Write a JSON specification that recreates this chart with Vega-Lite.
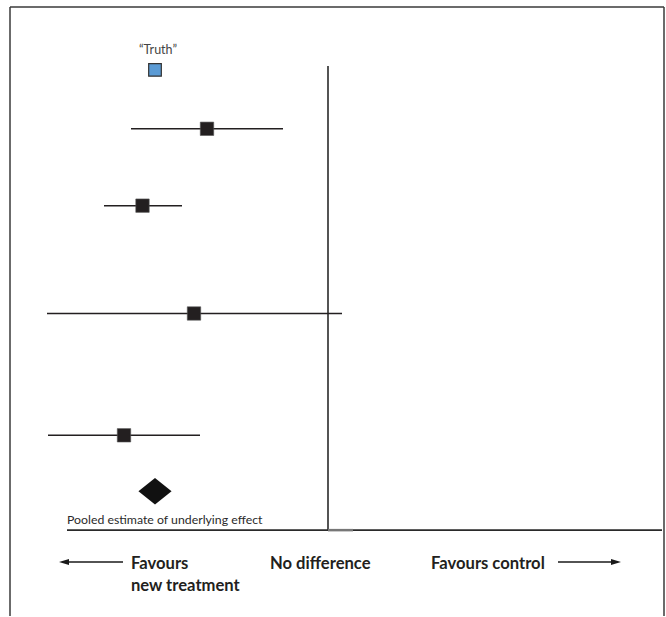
{
  "$schema": "https://vega.github.io/schema/vega-lite/v6.json",
  "width": 666,
  "height": 617,
  "autosize": {"type": "fit", "contains": "padding"},
  "padding": 0,
  "background": "white",
  "config": {"view": {"stroke": null}},
  "datasets": {
    "frame": [
      {"x": -3.18, "x2": 3.36, "y": 7, "y2": 7},
      {"x": -3.18, "x2": -3.18, "y": 7, "y2": 617},
      {"x": 3.36, "x2": 3.36, "y": 7, "y2": 617}
    ],
    "refline": [
      {"x": 0, "x2": 0, "y": 66, "y2": 531},
      {"x": -2.61, "x2": 3.34, "y": 531, "y2": 531}
    ],
    "gray": [
      {"x": 0, "x2": 0.25, "y": 531, "y2": 531}
    ],
    "studies": [
      {"study": "Study 1", "est": -1.21, "lo": -1.97, "hi": -0.45, "row": 129},
      {"study": "Study 2", "est": -1.855, "lo": -2.24, "hi": -1.46, "row": 206},
      {"study": "Study 3", "est": -1.34, "lo": -2.81, "hi": 0.14, "row": 314},
      {"study": "Study 4", "est": -2.04, "lo": -2.8, "hi": -1.28, "row": 436}
    ],
    "truth": [{"label": "“Truth”", "est": -1.73, "row": 70, "labelrow": 54}],
    "pooled": [{"label": "Pooled estimate of underlying effect", "est": -1.73, "row": 492, "labelx": -2.61, "labelrow": 525}],
    "arrows": [
      {"x": -2.65, "x2": -2.05, "y": 563, "tip": -2.64, "dir": "left"},
      {"x": 2.3, "x2": 2.88, "y": 563, "tip": 2.88, "dir": "right"}
    ],
    "captions": [
      {"text": "Favours", "x": -1.97, "y": 570},
      {"text": "new treatment", "x": -1.97, "y": 592},
      {"text": "No difference", "x": -0.58, "y": 570},
      {"text": "Favours control", "x": 1.03, "y": 570}
    ]
  },
  "layer": [
    {
      "data": {"name": "frame"},
      "mark": {"type": "rule", "color": "#3a3a3a", "strokeWidth": 1.5},
      "encoding": {
        "x": {"field": "x", "type": "quantitative", "scale": {"domain": [-3.28, 3.38], "nice": false, "zero": false}, "axis": null},
        "x2": {"field": "x2"},
        "y": {"field": "y", "type": "quantitative", "scale": {"domain": [0, 617], "reverse": true, "nice": false, "zero": false}, "axis": null},
        "y2": {"field": "y2"}
      }
    },
    {
      "data": {"name": "refline"},
      "mark": {"type": "rule", "color": "#2a2a2a", "strokeWidth": 1.6},
      "encoding": {
        "x": {"field": "x", "type": "quantitative"},
        "x2": {"field": "x2"},
        "y": {"field": "y", "type": "quantitative"},
        "y2": {"field": "y2"}
      }
    },
    {
      "data": {"name": "gray"},
      "mark": {"type": "rule", "color": "#777777", "strokeWidth": 2.5},
      "encoding": {
        "x": {"field": "x", "type": "quantitative"},
        "x2": {"field": "x2"},
        "y": {"field": "y", "type": "quantitative"},
        "y2": {"field": "y2"}
      }
    },
    {
      "data": {"name": "studies"},
      "mark": {"type": "rule", "color": "#231f20", "strokeWidth": 1.5},
      "encoding": {
        "x": {"field": "lo", "type": "quantitative"},
        "x2": {"field": "hi"},
        "y": {"field": "row", "type": "quantitative"}
      }
    },
    {
      "data": {"name": "studies"},
      "mark": {"type": "point", "shape": "square", "filled": true, "size": 180, "color": "#231f20", "opacity": 1, "stroke": "#555555", "strokeWidth": 0.6},
      "encoding": {
        "x": {"field": "est", "type": "quantitative"},
        "y": {"field": "row", "type": "quantitative"}
      }
    },
    {
      "data": {"name": "truth"},
      "mark": {"type": "point", "shape": "square", "filled": true, "size": 160, "fill": "#5b9bd5", "opacity": 1, "stroke": "#333333", "strokeWidth": 1.2},
      "encoding": {
        "x": {"field": "est", "type": "quantitative"},
        "y": {"field": "row", "type": "quantitative"}
      }
    },
    {
      "data": {"name": "truth"},
      "mark": {"type": "text", "font": "Lato", "fontSize": 12.5, "color": "#444444", "align": "center", "baseline": "alphabetic", "dx": 3},
      "encoding": {
        "x": {"field": "est", "type": "quantitative"},
        "y": {"field": "labelrow", "type": "quantitative"},
        "text": {"field": "label"}
      }
    },
    {
      "data": {"name": "pooled"},
      "mark": {"type": "point", "shape": "M -1 0 L 0 -0.8 L 1 0 L 0 0.8 Z", "filled": true, "size": 1100, "color": "#111111", "opacity": 1},
      "encoding": {
        "x": {"field": "est", "type": "quantitative"},
        "y": {"field": "row", "type": "quantitative"}
      }
    },
    {
      "data": {"name": "pooled"},
      "mark": {"type": "text", "font": "Lato", "fontSize": 12.3, "color": "#2a2a2a", "align": "left", "baseline": "alphabetic"},
      "encoding": {
        "x": {"field": "labelx", "type": "quantitative"},
        "y": {"field": "labelrow", "type": "quantitative"},
        "text": {"field": "label"}
      }
    },
    {
      "data": {"name": "arrows"},
      "mark": {"type": "rule", "color": "#1a1a1a", "strokeWidth": 1.5},
      "encoding": {
        "x": {"field": "x", "type": "quantitative"},
        "x2": {"field": "x2"},
        "y": {"field": "y", "type": "quantitative"}
      }
    },
    {
      "data": {"name": "arrows"},
      "mark": {"type": "point", "filled": true, "size": 100, "color": "#1a1a1a", "opacity": 1},
      "encoding": {
        "x": {"field": "tip", "type": "quantitative"},
        "y": {"field": "y", "type": "quantitative"},
        "shape": {"field": "dir", "type": "nominal", "scale": {"domain": ["left", "right"], "range": ["M -1 0 L 1 -0.6 L 1 0.6 Z", "M 1 0 L -1 -0.6 L -1 0.6 Z"]}, "legend": null}
      }
    },
    {
      "data": {"name": "captions"},
      "mark": {"type": "text", "font": "Lato", "fontSize": 16.6, "fontWeight": "bold", "color": "#231f20", "align": "left", "baseline": "alphabetic"},
      "encoding": {
        "x": {"field": "x", "type": "quantitative"},
        "y": {"field": "y", "type": "quantitative"},
        "text": {"field": "text"}
      }
    }
  ]
}
